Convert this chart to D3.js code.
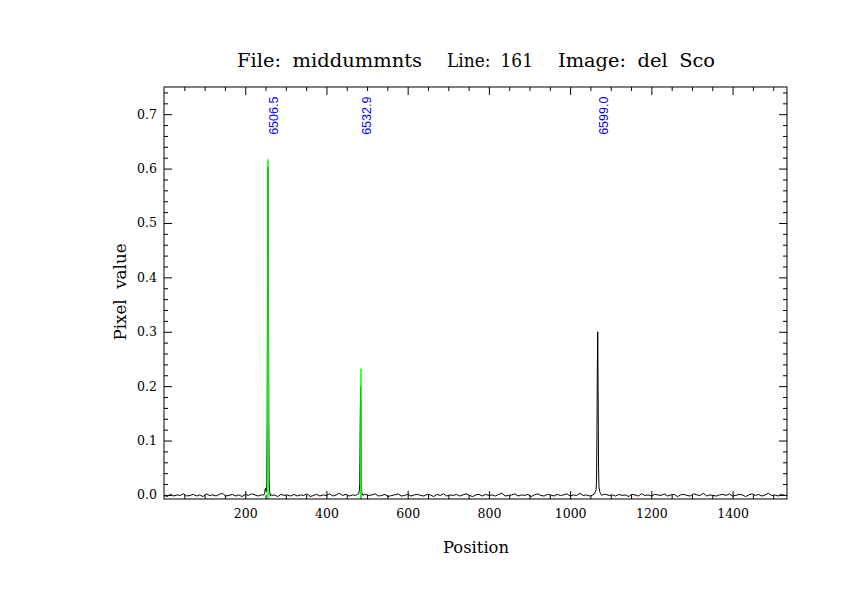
<!DOCTYPE html>
<html>
<head>
<meta charset="utf-8">
<script src="https://cdn.jsdelivr.net/npm/d3@7"></script>
<style>
  body { margin: 0; background: #fff; }
  .axis text { font-family: "DejaVu Serif", serif; font-size: 12.5px; fill: #000; }
  .axis line { stroke: #000; }
  .axis path { display: none; }
</style>
</head>
<body>
<div id="chart-area"></div>
<script>
// baseline samples, every 8 pixels starting at 0
var baseStep = 8;
var baseline = [
  -0.001, -0.003, 0.001, -0.002, 0.000, -0.001, 0.002, -0.002, -0.001, 0.001,
  -0.002, 0.000, -0.003, 0.002, -0.001, 0.000, -0.002, 0.001, 0.003, -0.002,
  -0.001, 0.001, -0.002, 0.000, -0.003, 0.001, -0.001, 0.002, 0.000, -0.002,
  0.000, -0.001, 0.001, -0.002, 0.000, -0.003, 0.001, -0.001, 0.000, -0.002,
  0.001, -0.002, 0.000, -0.001, 0.002, -0.003, -0.001, 0.001, -0.002, 0.000,
  -0.001, 0.002, -0.002, 0.000, 0.003, -0.001, 0.001, -0.002, 0.000, -0.001,
  0.000, -0.002, 0.001, -0.001, 0.000, 0.002, -0.002, -0.001, 0.001, -0.003,
  -0.001, 0.000, 0.002, -0.002, -0.001, 0.001, -0.002, 0.000, 0.001, -0.001,
  -0.002, 0.001, 0.000, -0.003, 0.001, -0.001, 0.002, -0.002, 0.000, -0.001,
  0.001, -0.002, 0.000, 0.002, -0.001, -0.003, 0.000, 0.001, -0.002, 0.001,
  -0.001, 0.000, -0.002, 0.001, 0.003, -0.002, -0.001, 0.000, 0.002, -0.002,
  0.000, -0.001, 0.001, -0.003, 0.000, 0.002, -0.001, -0.002, 0.001, 0.000,
  -0.002, 0.001, -0.001, 0.000, 0.002, -0.002, 0.000, -0.001, 0.003, -0.001,
  0.000, -0.002, 0.001, 0.000, 0.002, -0.001, 0.001, -0.001, 0.000, -0.002,
  0.001, -0.001, 0.000, -0.003, 0.001, 0.000, -0.002, 0.002, -0.001, 0.000,
  -0.002, 0.001, 0.000, -0.001, 0.002, -0.002, 0.000, 0.001, -0.003, 0.000,
  0.001, -0.001, -0.002, 0.002, 0.000, -0.001, 0.003, -0.002, 0.000, -0.001,
  -0.002, 0.000, 0.001, -0.001, 0.002, -0.002, -0.001, 0.001, 0.000, -0.003,
  0.000, 0.002, -0.001, 0.001, -0.002, 0.000, 0.003, -0.001, 0.000, -0.002,
  0.001, -0.001
];

// emission line profiles (black spectrum)
var peak1X = [246, 248, 249, 250, 251, 252, 253, 254, 255, 256, 257, 258, 259, 260, 262, 264, 266];
var peak1Y = [0.000, 0.003, 0.010, 0.012, 0.008, 0.006, 0.020, 0.130, 0.410, 0.603, 0.535, 0.130, 0.030, 0.006, -0.002, 0.001, -0.001];
var peak2X = [476, 479, 481, 482, 483, 484, 485, 486, 487, 490, 493];
var peak2Y = [0.001, 0.002, 0.008, 0.020, 0.120, 0.200, 0.150, 0.020, 0.004, -0.001, 0.001];
var peak3X = [1056, 1060, 1062, 1064, 1065, 1066, 1067, 1068, 1069, 1070, 1071, 1073, 1075, 1078, 1082];
var peak3Y = [0.000, 0.002, 0.006, 0.010, 0.025, 0.110, 0.230, 0.300, 0.180, 0.050, 0.015, 0.006, 0.002, -0.001, 0.001];

// green overlay lines
var green1X = [254, 255, 256, 257, 258];
var green1Y = [-0.020, 0.200, 0.617, 0.300, -0.020];
var green2X = [484, 485, 486];
var green2Y = [-0.020, 0.232, -0.020];

// line identifications
var linePos = [256, 485, 1068];
var lineLabels = ["6506.5", "6532.9", "6599.0"];

var xMajor = [200, 400, 600, 800, 1000, 1200, 1400];
var yMajor = [0.0, 0.1, 0.2, 0.3, 0.4, 0.5, 0.6, 0.7];

var W = 861, H = 611;
var margin = { left: 164, right: 74, top: 87, bottom: 112 };
var width = W - margin.left - margin.right,
    height = H - margin.top - margin.bottom;

var svg = d3.select("#chart-area").append("svg")
    .attr("width", W)
    .attr("height", H);

var g = svg.append("g")
    .attr("transform", "translate(" + margin.left + "," + margin.top + ")");

var x = d3.scaleLinear().domain([0, 1534]).range([0, width]);
var y = d3.scaleLinear().domain([-0.0075, 0.75]).range([height, 0]);

svg.append("defs").append("clipPath").attr("id", "clip")
  .append("rect").attr("width", width).attr("height", height);

// merge baseline with peak profiles
function pairs(xs, ys) { return xs.map(function(d, i) { return [d, ys[i]]; }); }
var peaks = [pairs(peak1X, peak1Y), pairs(peak2X, peak2Y), pairs(peak3X, peak3Y)];
var spectrum = [];
baseline.forEach(function(v, i) {
    var px = i * baseStep;
    var inside = peaks.some(function(p) { return px >= p[0][0] && px <= p[p.length - 1][0]; });
    if (!inside) spectrum.push([px, v]);
});
peaks.forEach(function(p) { spectrum = spectrum.concat(p); });
spectrum.sort(function(a, b) { return a[0] - b[0]; });

var line = d3.line()
    .x(function(d) { return x(d[0]); })
    .y(function(d) { return y(d[1]); });

var plot = g.append("g").attr("clip-path", "url(#clip)");

plot.append("path")
    .datum(spectrum)
    .attr("fill", "none")
    .attr("stroke", "#000")
    .attr("stroke-width", 1)
    .attr("d", line);

[pairs(green1X, green1Y), pairs(green2X, green2Y)].forEach(function(gp) {
    plot.append("path")
        .datum(gp)
        .attr("fill", "none")
        .attr("stroke", "#00ff00")
        .attr("stroke-width", 1)
        .attr("d", line);
});

// minor tick values
var xMinor = d3.range(50, 1534, 50).filter(function(d) { return d % 200 !== 0; });
var yMinor = d3.range(0, 76, 2).map(function(d) { return d / 100; })
    .filter(function(d) { return Math.round(d * 100) % 10 !== 0; });

// X axes
g.append("g").attr("class", "axis")
    .attr("transform", "translate(0," + height + ")")
    .call(d3.axisBottom(x).tickValues(xMajor).tickSize(-8).tickPadding(10).tickFormat(d3.format("d")));
g.append("g").attr("class", "axis")
    .attr("transform", "translate(0," + height + ")")
    .call(d3.axisBottom(x).tickValues(xMinor).tickSize(-4).tickFormat(""));
g.append("g").attr("class", "axis")
    .call(d3.axisTop(x).tickValues(xMajor).tickSize(-8).tickFormat(""));
g.append("g").attr("class", "axis")
    .call(d3.axisTop(x).tickValues(xMinor).tickSize(-4).tickFormat(""));

// Y axes
g.append("g").attr("class", "axis")
    .call(d3.axisLeft(y).tickValues(yMajor).tickSize(-8).tickPadding(7).tickFormat(d3.format(".1f")));
g.append("g").attr("class", "axis")
    .call(d3.axisLeft(y).tickValues(yMinor).tickSize(-4).tickFormat(""));
g.append("g").attr("class", "axis")
    .attr("transform", "translate(" + width + ",0)")
    .call(d3.axisRight(y).tickValues(yMajor).tickSize(-8).tickFormat(""));
g.append("g").attr("class", "axis")
    .attr("transform", "translate(" + width + ",0)")
    .call(d3.axisRight(y).tickValues(yMinor).tickSize(-4).tickFormat(""));

// frame
g.append("rect")
    .attr("width", width)
    .attr("height", height)
    .attr("fill", "none")
    .attr("stroke", "#000")
    .attr("stroke-width", 1);

// line labels
g.selectAll(".lbl")
    .data(linePos)
    .enter().append("text")
    .attr("class", "lbl")
    .attr("transform", function(d) { return "translate(" + (x(d) + 10) + "," + y(0.662) + ") rotate(-90)"; })
    .attr("font-family", "Liberation Sans, Arial, sans-serif")
    .attr("font-size", "12.5px")
    .attr("fill", "#0000ff")
    .text(function(d, i) { return lineLabels[i]; });

// title
var title = [
    { t: "File: middummnts", x: 237, w: 185 },
    { t: "Line: 161", x: 447, w: 86 },
    { t: "Image: del Sco", x: 558, w: 157 }
];
svg.selectAll(".title")
    .data(title)
    .enter().append("text")
    .attr("class", "title")
    .attr("x", function(d) { return d.x; })
    .attr("y", 67)
    .attr("font-family", "DejaVu Serif, serif")
    .attr("font-size", "18px")
    .attr("word-spacing", "5px")
    .attr("textLength", function(d) { return d.w; })
    .attr("lengthAdjust", "spacingAndGlyphs")
    .text(function(d) { return d.t; });

// x label
svg.append("text")
    .attr("x", 476)
    .attr("y", 553)
    .attr("text-anchor", "middle")
    .attr("font-family", "DejaVu Serif, serif")
    .attr("font-size", "16px")
    .attr("textLength", 66)
    .attr("lengthAdjust", "spacingAndGlyphs")
    .text("Position");

// y label
svg.append("text")
    .attr("transform", "translate(126,292) rotate(-90)")
    .attr("text-anchor", "middle")
    .attr("font-family", "DejaVu Serif, serif")
    .attr("font-size", "16px")
    .attr("word-spacing", "5px")
    .attr("textLength", 97)
    .attr("lengthAdjust", "spacingAndGlyphs")
    .text("Pixel value");
</script>
</body>
</html>
